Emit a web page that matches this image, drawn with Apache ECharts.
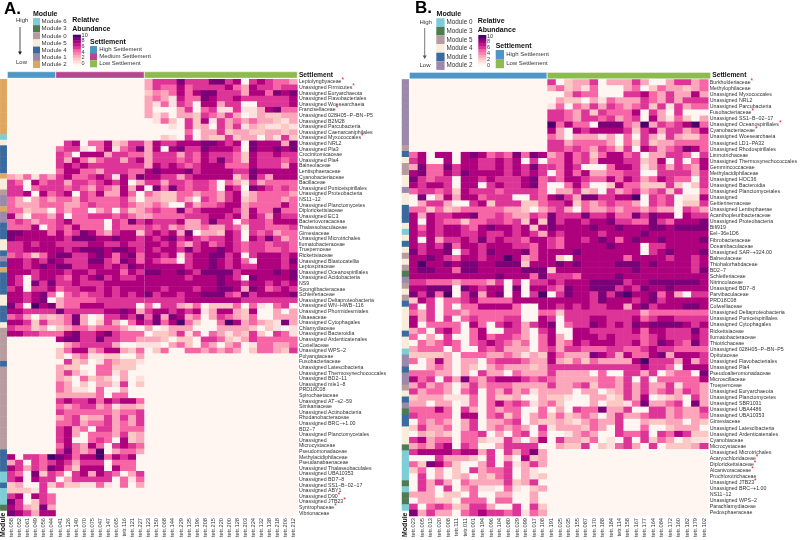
<!DOCTYPE html>
<html><head><meta charset="utf-8">
<style>html,body{margin:0;padding:0;background:#fff}#c{width:800px;height:540px}</style>
<script src="https://cdn.jsdelivr.net/npm/echarts@6/dist/echarts.min.js"></script>
</head><body><div id="c"></div>
<script>
const ramp = ['#fff5f1','#fee1de','#fcc8c4','#fba6bb','#f986ae','#f665a5','#dd3497','#c5158a','#ae017e','#7a0177','#49006a'];
const moduleColorsA = {6:'#7ccdd5',3:'#4f7a52',0:'#b89b9f',5:'#f8ecda',4:'#3a6a9e',1:'#9b88ab',2:'#dea75f'};
const moduleColorsB = {0:'#7ccdd5',3:'#4f7a52',5:'#b89b9f',4:'#f8ecda',1:'#3a6a9e',2:'#9b88ab'};
const settlementColors = {High:'#4f96c4',Medium:'#b8468f',Low:'#8cbb4f'};

const colsAHigh = ['tetr.058','tetr.052','tetr.061','tetr.049','tetr.056','tetr.044'];
const colsAMed = ['tetr.041','tetr.126','tetr.140','tetr.070','tetr.075','tetr.047','tetr.147','tetr.065','tetr.116','tetr.121','tetr.227'];
const colsALow = ['tetr.123','tetr.150','tetr.068','tetr.144','tetr.229','tetr.135','tetr.196','tetr.208','tetr.215','tetr.220','tetr.200','tetr.128','tetr.203','tetr.224','tetr.132','tetr.138','tetr.218','tetr.206','tetr.212'];
const colsBHigh = ['tetr.023','tetr.005','tetr.013','tetr.020','tetr.008','tetr.111','tetr.011','tetr.001','tetr.194','tetr.096','tetr.104','tetr.080','tetr.029','tetr.099','tetr.017','tetr.108'];
const colsBLow = ['tetr.191','tetr.025','tetr.035','tetr.155','tetr.087','tetr.170','tetr.188','tetr.184','tetr.114','tetr.158','tetr.167','tetr.177','tetr.164','tetr.084','tetr.172','tetr.160','tetr.182','tetr.179','tetr.102'];

const rowsA = ['Leptolyngbyaceae','Unassigned Firmicutes','Unassigned Euryarchaeota','Unassigned Flavobacteriales','Unassigned Woesearchaeia','Francisellaceae','Unassigned 028H05\u2212P\u2212BN\u2212P5','Unassigned B2M28','Unassigned Parcubacteria','Unassigned Caenarcaniphilales','Unassigned Myxococcales','Unassigned NRL2','Unassigned Pla3','Crocinitomicaceae','Unassigned Pla4','Balneolaceae','Lentisphaeraceae','Cyanobacteriaceae','Bacillaceae','Unassigned Puniceispirillales','Unassigned Proteobacteria','NS11\u221212','Unassigned Planctomycetes','Diplorickettsiaceae','Unassigned EC3','Bacteriovoracaceae','Thalassobaculaceae','Gimesiaceae','Unassigned Microtrichales','Ilumatobacteraceae','Truepemceae','Rickettsiaceae','Unassigned Blastocatellia','Leptospiraceae','Unassigned Oceanospirillales','Unassigned Acidobacteria','NS9','Spongiibacteraceae','Schleiferiaceae','Unassigned Deltaproteobacteria','Unassigned WN\u2212HWB\u2212116','Unassigned Phormidesmiales','Nisaeaceae','Unassigned Cytophagales','Chlamydiaceae','Unassigned Bacteroidia','Unassigned Ardenticatenales','Coxiellaceae','Unassigned WPS\u22122','Polyangiaceae','Fusobacteriaceae','Unassigned Latescibacteria','Unassigned Thermosynechococcales','Unassigned BD2\u221211','Unassigned mle1\u22128','PRD18C08','Spirochaetaceae','Unassigned AT\u2212s2\u221259','Simkaniaceae','Unassigned Actinobacteria','Rhodanobacteraceae','Unassigned BRC\u2212+1.00','BD2\u22127','Unassigned Planctomycetales','Unassigned','Microcystaceae','Pseudomonadaceae','Methylacidiphilaceae','Pseudanabaenaceae','Unassigned Thalassobaculales','Unassigned UBA10353','Unassigned BD7\u22128','Unassigned SS1\u2212B\u221202\u221217','Unassigned ABY1','Unassigned D90','Unassigned JTB23','Syntrophaceae','Vibrionaceae'];
const starredA = ['Leptolyngbyaceae','Unassigned Firmicutes','Francisellaceae','Unassigned Myxococcales','Unassigned D90','Unassigned JTB23','Syntrophaceae'];
const modulesA = [2,2,2,2,2,2,2,2,2,2,6,5,4,4,4,4,4,2,5,5,0,1,1,2,1,1,4,4,4,5,5,4,1,4,2,4,4,4,4,5,5,4,4,4,5,0,0,0,0,0,0,4,0,0,0,0,0,0,0,0,0,0,0,0,0,0,0,4,4,4,4,6,6,4,6,6,6,3];
const matrixA = [
'0 0 3666966699680686553','0 0 3655856666853866566','0 0 2435858996663885989','0 0 3531755986686666668','0 0 3151650883660066668','0 0 3000360561161138955','0 0 3130332653630132233','0 0 0152062816353533213','0 0 0001062306361321121','0 0 0000050336233223323','0 0 0021060322623303162',
'0 06805582366 3866888998680988839','0 56610581569 3808966988860988989','0 65088836655 3666365866652866866','0 63852566368 3666565869652866656','0 68686666666 3868656888555866638','0 58855366655 8988896888866988888',
'325153 68556861859 8866368888825963888','650856 63665686803 6636656650531635555','660566 65653653838 0959656650860986565','668085 68065833850 5322553553681355553','530353 55365555630 3322530653682355535','533355 53356555653 3530063556883555585','552330 53550350523 5655956888863855955','830553 60556665653 3555566688683863866','565355 68555506596 8666833696605665888','555805 65855506555 6563533533651665556',
'998885 85698536882 6868390332860656355','988888 86999889886 8689686566860869635','668688 66668866866 8868536856865665665','668888 86899989986 8688696889865665565','565258 99668985895 8868168899680688868','886869 86669965985 8655068898685088869','886898 99668868698 8888868898686688868','888688 86886888586 9988986999968888989','860688 65868968668 8888868889860988889','860969 66866688888 8888888889886886868','680668 56688686888 8868886889983985686','886895 05656686868 9688688999659688889','886890 35555666666 6666688888886666666','960a89 35588866660 5066325022250510560','886666 96666688983 6886868138832800303','563032 35930166869 5939835036532500333','886263 35930263058 6958a52005a83532193','655230 23553555310 3013330003333202101','886655 58966896555 0223615053132620651',
'0 89966966553 3320220665213655555','0 03566663001 1103520530350155335','0 25883588325 0250055353530255326','0 20351122003','0 06230153221','0 32200552220','0 36310551300','0 32052320301','0 53020331602','0 53110500300','0 33333505500','0 68668586885','0 53566351332','0 65555553556','0 35623363636','0 55635563536','0 68350663555','0 68305553623','0 68005650823','0 58538506865','0 69535a03553',
'80665a 98588a58680','360656 86366605550','863659 85288808550','650926 50683865036','680866 03666660515','230062 52211510503','222160','680865','960265','863293','986388'];

const rowsB = ['Burkholderiaceae','Methylophilaceae','Unassigned Myxococcales','Unassigned NRL2','Unassigned Parcubacteria','Fusobacteriaceae','Unassigned SS1\u2212B\u221202\u221217','Unassigned Oceanospirillales','Cyanobacteriaceae','Unassigned Woesearchaeia','Unassigned LD1\u2212PA32','Unassigned Rhodospirillales','Limnotrichaceae','Unassigned Thermosynechococcales','Gemmincoccaceae','Methylacidiphilaceae','Unassigned HOC36','Unassigned Bacteroidia','Unassigned Planctomycetales','Unassigned','Geitlerinemaceae','Unassigned Lentisphaerae','Acanthopleuribacteraceae','Unassigned Proteobacteria','Bifi919','Eel\u221236e1D6','Fibrobacteraceae','Oceanibaculaceae','Unassigned SAR\u2212+324.00','Balneolaceae','Thiohalorhabdaceae','BD2\u22127','Schleiferiaceae','Nitrincolaceae','Unassigned BD7\u22128','Parvibaculaceae','PRD18C08','Colwelliaceae','Unassigned Deltaproteobacteria','Unassigned Puniceispirillales','Unassigned Cytophagales','Rickettsiaceae','Ilumatobacteraceae','Thiotrichaceae','Unassigned 028H05\u2212P\u2212BN\u2212P5','Opitutaceae','Unassigned Flavobacteriales','Unassigned Pla4','Pseudoalteromonadaceae','Microscillaceae','Truepemceae','Unassigned Euryarchaeota','Unassigned Planctomycetes','Unassigned SBR1031','Unassigned UBA4486','Unassigned UBA10353','Gimesiaceae','Unassigned Latescibacteria','Unassigned Ardenticatenales','Cyanobiaceae','Microcystaceae','Unassigned Microtrichales','Acaryochloridaceae','Diplorickettsiaceae','Alcanivoracaceae','Prochlorotrichaceae','Unassigned JTB23','Unassigned BRC\u2212+1.00','NS11\u221212','Unassigned WPS\u22122','Parachlamydiaceae','Pedosphaeraceae'];
const starredB = ['Burkholderiaceae','Fusobacteriaceae','Unassigned Oceanospirillales','Cyanobacteriaceae','Acaryochloridaceae','Diplorickettsiaceae','Alcanivoracaceae','Unassigned JTB23'];
const modulesB = [2,2,2,2,2,2,2,2,2,2,2,5,1,4,5,5,4,4,2,4,4,1,1,1,4,0,4,1,4,5,4,5,3,2,5,4,5,1,4,4,4,4,1,4,4,0,2,2,1,2,2,5,4,1,2,3,1,1,4,4,4,3,0,0,0,0,0,3,0,3,3,0];
const matrixB = [
'0 6023360333630036635','0 3523150003502533235','0 0036550006685363383','0 0322031533365363666','0 1505363653562616355','0 6653626555806306000','0 6653665635608315203','0 a5855099953a36568a5','0 8308688886268366358','0 5303331305063163225','0 6635555305262335555','0 6656536526086356985',
'5808808985659598 3585625885603366506','6800808866868060 5585638886623806058','3955968866868696 6586000588613636538','8955869888868686 0585833556600666636','9656608868666895 6588655858635865506','8688608806866895 0058500285522262026','5665628666566665 0336230635635626005','0903838856660065 8963996688a06560118','0366300682666225 6682535655306560226','5525235555533203 5630533535535330653',
'8386688955653365 9666966855969880866','8086552556656282 9688688966559658889','8586886589886828 9888898898889989999','8686886686686863 8688886888898888888','8083668696866588 6588689858988988889','8686958868886658 6588888988806688888','9688906869888958 8889888888806898889','88986588688a8358 8208888885888868868','8a88989988999288 8989888899989888868','8998859988888999 2888888888988888869','8888888888988859 6665888898888888888','6655535553606066 8688899996889999998','8899909868809088 6598899968698898888','9695a0693890806a 069886969a889583066','2860556855558888 8888869888689688888','6060505588885008 8686866883896888998',
'5360553555555005 5266666666635555555','8360605655566008 6066688666856886666','8055550850686368 9056698686989999868','3506850580066306 8008866666858866696','5030600585665305 8308886866656866686','0535650568653505 8358688866856986596','3555050065633305 6366555665568665555','2222305553353132 8533398638558938886','5038303305666533 83252533338a6663836','0035303203533323 6666666666686650888','5553303063305333 6333305006636035509','8560639536888656 5333335536060555558','3635303635553333 6335625536363361553','6355305605363513 3330330236363563653','2333111505223003 2210033126380123063','3303301505856513 5200030221593356093','5558506305355005 0306559336006635336','6555508805625035 2523530363356635335','0535303603356032 2321353360032233032','2633503603535306 1333253060050023330','0323205560305605 0013530065560658622','6835505521163038 0633250106062530211','3536806500366660 0322602156306022236',
'6888868836063693','0006333206030823','5298520036061363','2503020635560310','0603023032560312','0636305333362360','0630603511051023','3330220500330030','0332205550550030','6056523663006062','9363305686656153'];

const FONT = '"Liberation Sans",Arial,sans-serif';
const TXT = '#333';
const grid=[], xAxis=[], yAxis=[], series=[], heatIdx=[], graphic=[];

function parseRow(str, sizes){
  const parts = str.split(' ');
  return sizes.map((n,i)=>{
    const p = (parts[i]||'0').padEnd(n,'0').slice(0,n);
    return p.split('').map(ch=> ch==='a'?10:+ch);
  });
}

function panel(cfg){
  const {groups,rows,matrix,modules,moduleColors,starred,top,bottom,moduleBox,stripBox} = cfg;
  const sizes = groups.map(g=>g.cols.length);
  const parsed = matrix.map(r=>parseRow(r,sizes));
  const totalCols = sizes.reduce((a,b)=>a+b,0);
  const left = stripBox[0], width = stripBox[1]-stripBox[0];
  let cum = 0;
  groups.forEach((g,gi)=>{
    const gx = left + width*cum/totalCols, gw = width*sizes[gi]/totalCols;
    const idx = grid.length;
    grid.push({left:gx+(gi?0.5:0),top,width:gw-(gi?0.5:0),height:bottom-top,containLabel:false});
    xAxis.push({type:'category',gridIndex:idx,data:g.cols,position:'bottom',
      axisLine:{show:false},axisTick:{show:false},splitLine:{show:false},
      axisLabel:{interval:0,rotate:90,fontSize:5.7,margin:2,color:TXT,fontFamily:FONT}});
    const isLast = gi===groups.length-1;
    yAxis.push({type:'category',gridIndex:idx,data:rows,inverse:true,position:'right',
      axisLine:{show:false},axisTick:{show:false},splitLine:{show:false},
      axisLabel:{show:isLast,interval:0,fontSize:5.25,margin:1.5,color:TXT,fontFamily:FONT,
        formatter:v=>starred.includes(v)?v+'{r|*}':v,
        rich:{r:{color:'#f01818',fontSize:6.5,fontFamily:FONT,padding:[0,0,3,0]}}}});
    const data=[];
    parsed.forEach((row,ri)=>row[gi].forEach((val,ci)=>data.push([ci,ri,val])));
    heatIdx.push(series.length);
    series.push({type:'heatmap',xAxisIndex:idx,yAxisIndex:idx,data,progressive:0,emphasis:{disabled:true},silent:true});
    cum += sizes[gi];
  });
  const mi = grid.length;
  grid.push({left:moduleBox[0],top,width:moduleBox[1]-moduleBox[0],height:bottom-top});
  xAxis.push({type:'category',gridIndex:mi,data:['Module'],position:'bottom',axisLine:{show:false},axisTick:{show:false},
    axisLabel:{interval:0,rotate:90,fontSize:7,fontWeight:'bold',margin:2,color:'#111',fontFamily:FONT}});
  yAxis.push({type:'category',gridIndex:mi,data:rows,inverse:true,show:false});
  series.push({type:'heatmap',xAxisIndex:mi,yAxisIndex:mi,progressive:0,silent:true,emphasis:{disabled:true},
    data:modules.map((m,ri)=>({value:[0,ri,m],itemStyle:{color:moduleColors[m]}}))});
  const si = grid.length;
  grid.push({left,top:stripBox[2],width,height:stripBox[3]-stripBox[2]});
  xAxis.push({type:'value',gridIndex:si,min:0,max:totalCols,show:false});
  yAxis.push({type:'category',gridIndex:si,data:['Settlement'],position:'right',axisLine:{show:false},axisTick:{show:false},
    axisLabel:{fontSize:6.7,fontWeight:'bold',margin:1.5,color:'#111',fontFamily:FONT}});
  groups.forEach((g,gi)=>{
    series.push({type:'bar',stack:'s'+si,xAxisIndex:si,yAxisIndex:si,barWidth:'100%',silent:true,
      data:[g.cols.length],itemStyle:{color:settlementColors[g.name],borderColor:'#fff',borderWidth:0.4}});
  });
}

panel({groups:[{name:'High',cols:colsAHigh},{name:'Medium',cols:colsAMed},{name:'Low',cols:colsALow}],
  rows:rowsA,matrix:matrixA,modules:modulesA,moduleColors:moduleColorsA,starred:starredA,
  top:79.2,bottom:516.3,moduleBox:[0,6.7],stripBox:[7.3,297.4,71.6,78.3]});
panel({groups:[{name:'High',cols:colsBHigh},{name:'Low',cols:colsBLow}],
  rows:rowsB,matrix:matrixB,modules:modulesB,moduleColors:moduleColorsB,starred:starredB,
  top:79.4,bottom:516.2,moduleBox:[402,408.7],stripBox:[409.3,710.7,72.2,79]});

function text(x,y,t,o){graphic.push({type:'text',x,y,silent:true,style:Object.assign({text:t,font:'6px '+FONT,fill:TXT,textVerticalAlign:'middle'},o||{})});}
function rect(x,y,w,h,c){graphic.push({type:'rect',silent:true,shape:{x,y,width:w,height:h},style:{fill:c}});}
function legend(L){
  text(L.tagX,L.tagY,L.tag,{font:'bold '+L.tagSize+'px '+FONT,fill:'#000'});
  text(L.modX,14,'Module',{font:'bold 7px '+FONT,fill:'#111'});
  L.mods.forEach((m,i)=>{
    rect(L.swX,L.swY+i*L.swH,L.swW,L.swH,L.colors[m]);
    text(L.swX+L.swW+L.lblGap,L.swY+(i+.5)*L.swH,'Module '+m,{font:L.modFont+'px '+FONT});
  });
  text(L.hlX,L.highY,'High',{font:'6px '+FONT}); text(L.hlX,L.lowY,'Low',{font:'6px '+FONT});
  graphic.push({type:'line',silent:true,shape:{x1:L.arX,y1:L.arTop,x2:L.arX,y2:L.arBot-2},style:{stroke:L.arColor,lineWidth:0.8}});
  graphic.push({type:'polygon',silent:true,shape:{points:[[L.arX-2,L.arBot-3.5],[L.arX+2,L.arBot-3.5],[L.arX,L.arBot]]},style:{fill:L.arColor}});
  text(L.raX,L.raY,'Relative',{font:'bold 7px '+FONT,fill:'#111'});
  text(L.raX,L.raY+9,'Abundance',{font:'bold 7px '+FONT,fill:'#111'});
  const h=(L.cbB-L.cbT)/ramp.length;
  ramp.forEach((c,i)=>rect(L.raX+.6,L.cbB-(i+1)*h,8,h+.3,c));
  [0,2,4,6,8,10].forEach(v=>text(L.raX+9.3,L.tick0+(L.tick10-L.tick0)*v/10,String(v),{font:'5.5px '+FONT}));
  text(L.seX,L.seY,'Settlement',{font:'bold 7px '+FONT,fill:'#111'});
  L.sets.forEach((s,i)=>{
    rect(L.seX,L.seY+4+i*L.seH,L.seW,L.seH,settlementColors[s]);
    text(L.seX+L.seW+2.2,L.seY+4+(i+.5)*L.seH,s+' Settlement',{font:L.seFont+'px '+FONT});
  });
}
legend({tag:'A.',tagX:4,tagY:9,tagSize:17,modX:33,mods:[6,3,0,5,4,1,2],colors:moduleColorsA,swX:33,swY:18,swW:7,swH:7.15,lblGap:1.6,modFont:6.1,
  hlX:16,highY:20.7,lowY:62.5,arX:20,arTop:27,arBot:55,arColor:'#222',raX:72.3,raY:20,cbT:34.7,cbB:66,tick0:63.5,tick10:35.2,
  seX:90,seY:42,sets:['High','Medium','Low'],seW:7,seH:7.1,seFont:6});
legend({tag:'B.',tagX:415,tagY:8,tagSize:17,modX:436.6,mods:[0,3,5,4,1,2],colors:moduleColorsB,swX:436.3,swY:18.3,swW:8.3,swH:8.6,lblGap:2,modFont:6.3,
  hlX:419.5,highY:22.7,lowY:65.7,arX:424.7,arTop:28,arBot:59,arColor:'#555',raX:477.7,raY:20.7,cbT:35,cbB:66,tick0:65,tick10:36,
  seX:495.7,seY:46,sets:['High','Low'],seW:8.3,seH:9.1,seFont:6});

const chart = echarts.init(document.getElementById('c'),null,{renderer:'canvas'});
chart.setOption({animation:false,backgroundColor:'#fff',grid,xAxis,yAxis,series,graphic,
  visualMap:{type:'continuous',show:false,min:0,max:10,seriesIndex:heatIdx,inRange:{color:ramp}}});
</script></body></html>
